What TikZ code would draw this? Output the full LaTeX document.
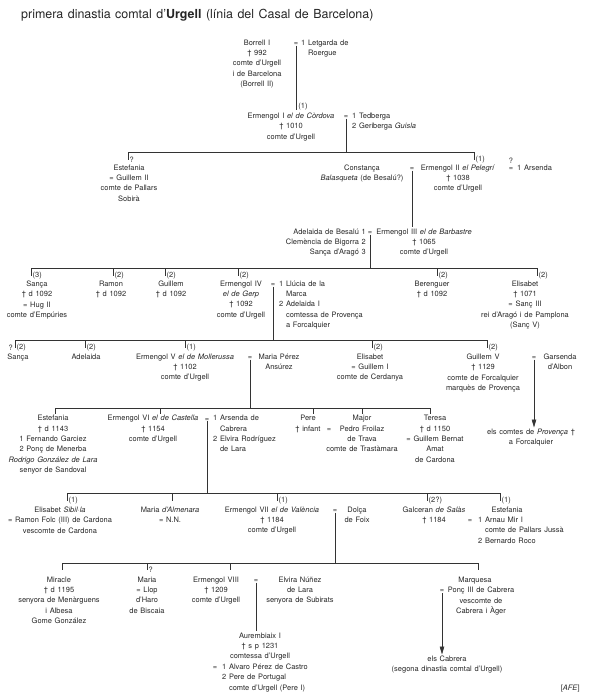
\documentclass[tikz,border=0pt]{standalone}
\usepackage{fontspec}
\setmainfont{TeX Gyre Heros}[WordSpace=1.3]
\usetikzlibrary{arrows.meta,positioning}
\newcommand{\indt}{\hphantom{1\ }}
\newcommand{\txtsize}{\fontsize{7.5}{10.4}\selectfont}

\begin{document}
\begin{tikzpicture}[
    x=1bp,
    y=-1bp,
    txt/.style={align=center, anchor=north, yshift=6bp, inner sep=0pt, text=black!85, font=\txtsize, execute at begin node={\rule{0pt}{6bp}}},
    lst/.style={align=left, anchor=north west, yshift=6bp, inner sep=0pt, text=black!85, font=\txtsize, execute at begin node={\rule{0pt}{6bp}}},
    rlst/.style={align=right, anchor=north east, yshift=6bp, inner sep=0pt, text=black!85, font=\txtsize, execute at begin node={\rule{0pt}{6bp}}},
    eq/.style={anchor=base, inner sep=0pt, text=black!85, font=\txtsize},
    ord/.style={inner sep=0pt, text=black!85, font=\txtsize},
    line/.style={line width=0.55pt, draw=black!80},
    drop/.style={line width=0.55pt, draw=black!80, shorten >=2bp},
    arr/.style={-{Triangle[length=8bp, width=4.5bp]}, line width=0.55pt, draw=black!80, shorten >=1bp}
]
\useasboundingbox (0,0) rectangle (589,700);

\node[anchor=base west, inner sep=0pt, text=black!85, font=\fontsize{12.5}{15}\selectfont] (title) at (21,18.5) {primera dinastia comtal d'\textbf{Urgell} (línia del Casal de Barcelona)};

\node[txt] (borrell) at (257,45.5) {Borrell I\\† 992\\comte d'Urgell\\i de Barcelona\\(Borrell II)};
\node[eq] (m-borrell) at (296,45.5) {=};
\node[lst] (letgarda) at (301,45.5) {1 Letgarda de\\\indt Roergue};
\node[ord] (o-ermI) at (303,107) {(1)};
\node[txt] (ermI) at (291,118.5) {Ermengol I \textit{el de Còrdova}\\† 1010\\comte d'Urgell};
\node[eq] (m-ermI) at (346,118.5) {=};
\node[lst] (tedberga) at (352,118.5) {1 Tedberga\\2 Geriberga \textit{Guisla}};

\coordinate (b2l) at (128,152);
\coordinate (b2r) at (474,152);
\coordinate (t-estefI) at (128,160);
\coordinate (t-ermII) at (474,160);
\node[ord, right=1.5bp of t-estefI] (o-estefI) {?};
\node[ord, right=1.5bp of t-ermII] (o-ermII) {(1)};
\node[txt] (estefI) at (129,170.5) {Estefania\\= Guillem II\\comte de Pallars\\Sobirà};
\node[txt] (constanca) at (362,170.5) {Constança\\\textit{Balasqueta} (de Besalú?)};
\node[eq] (m-ermII) at (412,170.5) {=};
\node[txt] (ermII) at (458,170.5) {Ermengol II \textit{el Pelegrí}\\† 1038\\comte d'Urgell};
\node[eq] (m-arsenda) at (511,170.5) {=};
\node[ord, above=3.5bp of m-arsenda] (q-arsenda) {?};
\node[lst] (arsenda) at (517,170.5) {1 Arsenda};

\node[rlst] (adelaidaB) at (366,234.5) {Adelaida de Besalú 1\\Clemència de Bigorra 2\\Sança d'Aragó 3};
\node[eq] (m-ermIII) at (370,234.5) {=};
\node[txt] (ermIII) at (424,234.5) {Ermengol III \textit{el de Barbastre}\\† 1065\\comte d'Urgell};

\coordinate (b3l) at (31,268);
\coordinate (b3r) at (537,268);
\coordinate (t-sancaI) at (31,276);
\coordinate (t-ramon) at (113,276);
\coordinate (t-guillemI) at (165,276);
\coordinate (t-ermIV) at (238,276);
\coordinate (t-berenguer) at (437,276);
\coordinate (t-elisI) at (537,276);
\node[ord, right=1.5bp of t-sancaI] (o-sancaI) {(3)};
\node[ord, right=1.5bp of t-ramon] (o-ramon) {(2)};
\node[ord, right=1.5bp of t-guillemI] (o-guillemI) {(2)};
\node[ord, right=1.5bp of t-ermIV] (o-ermIV) {(2)};
\node[ord, right=1.5bp of t-berenguer] (o-berenguer) {(2)};
\node[ord, right=1.5bp of t-elisI] (o-elisI) {(2)};
\node[txt] (sancaI) at (37,286.5) {Sança\\† d 1092\\= Hug II\\comte d'Empúries};
\node[txt] (ramon) at (111,286.5) {Ramon\\† d 1092};
\node[txt] (guillemI) at (171,286.5) {Guillem\\† d 1092};
\node[txt] (ermIV) at (241,286.5) {Ermengol IV\\\textit{el de Gerp}\\† 1092\\comte d'Urgell};
\node[eq] (m-ermIV) at (273,286.5) {=};
\node[lst] (llucia) at (279,286.5) {1 Llúcia de la\\\indt Marca\\2 Adelaida I\\\indt comtessa de Provença\\\indt a Forcalquier};
\node[txt] (berenguer) at (432,286.5) {Berenguer\\† d 1092};
\node[txt] (elisI) at (525,286.5) {Elisabet\\† 1071\\= Sanç III\\rei d'Aragó i de Pamplona\\(Sanç V)};

\coordinate (b4l) at (15,340);
\coordinate (b4r) at (487,340);
\coordinate (t-sancaII) at (15,348);
\coordinate (t-adelaida) at (85,348);
\coordinate (t-ermV) at (185,348);
\coordinate (t-elisII) at (372,348);
\coordinate (t-guillemV) at (487,348);
\node[ord, left=2bp of t-sancaII] (q-sancaII) {?};
\node[ord, right=1.5bp of t-sancaII] (o-sancaII) {(2)};
\node[ord, right=1.5bp of t-adelaida] (o-adelaida) {(2)};
\node[ord, right=1.5bp of t-ermV] (o-ermV) {(1)};
\node[ord, right=1.5bp of t-elisII] (o-elisII) {(2)};
\node[ord, right=1.5bp of t-guillemV] (o-guillemV) {(2)};
\node[txt] (sancaII) at (18,359.5) {Sança};
\node[txt] (adelaida) at (86,359.5) {Adelaida};
\node[txt] (ermV) at (185,359.5) {Ermengol V \textit{el de Mollerussa}\\† 1102\\comte d'Urgell};
\node[eq] (m-ermV) at (250,359.5) {=};
\node[txt] (mariaP) at (279,359.5) {Maria Pérez\\Ansúrez};
\node[txt] (elisII) at (370,359.5) {Elisabet\\= Guillem I\\comte de Cerdanya};
\node[txt] (guillemV) at (483,359.5) {Guillem V\\† 1129\\comte de Forcalquier\\marquès de Provença};
\node[eq] (m-guillemV) at (534,359.5) {=};
\node[txt] (garsenda) at (560,359.5) {Garsenda\\d'Albon};
\node[txt] (provenca) at (531,434.5) {els comtes de \textit{Provença} †\\a Forcalquier};

\coordinate (b5l) at (55,408);
\coordinate (b5r) at (430,408);
\coordinate (t-estefII) at (55,414);
\coordinate (t-ermVI) at (160,414);
\coordinate (t-pere) at (313,414);
\coordinate (t-major) at (362,414);
\coordinate (t-teresa) at (430,414);
\node[txt] (estefII) at (53,421) {Estefania\\† d 1143\\1 Fernando Garciez\\2 Ponç de Menerba\\\textit{Rodrigo González de Lara}\\senyor de Sandoval};
\node[txt] (ermVI) at (153,421) {Ermengol VI \textit{el de Castella}\\† 1154\\comte d'Urgell};
\node[eq] (m-ermVI) at (207,421) {=};
\node[lst] (arsendaC) at (213,421) {1 Arsenda de\\\indt Cabrera\\2 Elvira Rodríguez\\\indt de Lara};
\node[txt] (pere) at (308,421) {Pere\\† infant};
\node[eq] (m-major) at (329,431.4) {=};
\node[txt] (major) at (362,421) {Major\\Pedro Froilaz\\de Trava\\comte de Trastàmara};
\node[txt] (teresa) at (435,421) {Teresa\\† d 1150\\= Guillem Bernat\\Amat\\de Cardona};

\coordinate (b6l) at (67,493);
\coordinate (b6r) at (500,493);
\coordinate (t-elisIII) at (67,501);
\coordinate (t-mariaA) at (172,501);
\coordinate (t-ermVII) at (277,501);
\coordinate (t-galceran) at (427,501);
\coordinate (t-estefIII) at (500,501);
\node[ord, right=1.5bp of t-elisIII] (o-elisIII) {(1)};
\node[ord, right=1.5bp of t-ermVII] (o-ermVII) {(1)};
\node[ord, right=1.5bp of t-galceran] (o-galceran) {(2?)};
\node[ord, right=1.5bp of t-estefIII] (o-estefIII) {(1)};
\node[txt] (elisIII) at (60,512.5) {Elisabet \textit{Sibil·la}\\= Ramon Folc (III) de Cardona\\vescomte de Cardona};
\node[txt] (mariaA) at (170,512.5) {Maria \textit{d'Almenara}\\= N.N.};
\node[txt] (ermVII) at (272,512.5) {Ermengol VII \textit{el de València}\\† 1184\\comte d'Urgell};
\node[eq] (m-ermVII) at (335,512.5) {=};
\node[txt] (dolca) at (357,512.5) {Dolça\\de Foix};
\node[txt] (galceran) at (434,512.5) {Galceran \textit{de Salàs}\\† 1184};
\node[txt] (estefIII) at (507,512.5) {Estefania};
\node[eq] (m-estefIII) at (470,522.9) {=};
\node[lst] (arnau) at (478,522.9) {1 Arnau Mir I\\\indt comte de Pallars Jussà\\2 Bernardo Roco};

\coordinate (b7l) at (62,563);
\coordinate (b7r) at (478,563);
\coordinate (t-miracle) at (62,570);
\coordinate (t-mariaL) at (147,570);
\coordinate (t-ermVIII) at (230,570);
\coordinate (t-marquesa) at (478,570);
\node[ord, right=1.5bp of t-mariaL] (o-mariaL) {?};
\node[txt] (miracle) at (59,582.5) {Miracle\\† d 1195\\senyora de Menàrguens\\i Albesa\\Gome González};
\node[txt] (mariaL) at (147,582.5) {Maria\\= Llop\\d'Haro\\de Biscaia};
\node[txt] (ermVIII) at (216,582.5) {Ermengol VIII\\† 1209\\comte d'Urgell};
\node[eq] (m-ermVIII) at (256,582.5) {=};
\node[txt] (elvira) at (300,582.5) {Elvira Núñez\\de Lara\\senyora de Subirats};
\node[txt] (marquesa) at (475,582.5) {Marquesa};
\node[eq] (m-marquesa) at (442,592.9) {=};
\node[txt] (ponc) at (481,592.9) {Ponç III de Cabrera\\vescomte de\\Cabrera i Àger};
\node[txt] (cabrera) at (447,661.5) {els Cabrera\\(segona dinastia comtal d'Urgell)};

\node[txt] (aurembiaix) at (260,638.5) {Aurembiaix I\\† s p 1231\\comtessa d'Urgell};
\node[eq] (m-aurembiaix) at (215,669.7) {=};
\node[lst] (alvaro) at (222,669.7) {1 Alvaro Pérez de Castro\\2 Pere de Portugal\\\indt comte d'Urgell (Pere I)};
\node[anchor=base east, inner sep=0pt, text=black!85, font=\txtsize] (afe) at (580,690.5) {[\textit{AFE}]};

\draw[drop] (m-borrell.south) -- (m-borrell.south |- ermI.north);
\draw[line] (m-ermI.south) -- (m-ermI.south |- b2l);
\draw[line] (b2l) -- (b2r);
\draw[line] (b2l) -- (t-estefI);
\draw[line] (b2r) -- (t-ermII);
\draw[drop] (m-ermII.south) -- (m-ermII.south |- ermIII.north);
\draw[line] (m-ermIII.south) -- (m-ermIII.south |- b3l);
\draw[line] (b3l) -- (b3r);
\draw[line] (b3l) -- (t-sancaI);
\draw[line] (t-ramon |- b3l) -- (t-ramon);
\draw[line] (t-guillemI |- b3l) -- (t-guillemI);
\draw[line] (t-ermIV |- b3l) -- (t-ermIV);
\draw[line] (t-berenguer |- b3l) -- (t-berenguer);
\draw[line] (b3r) -- (t-elisI);
\draw[line] (m-ermIV.south) -- (m-ermIV.south |- b4l);
\draw[line] (b4l) -- (b4r);
\draw[line] (b4l) -- (t-sancaII);
\draw[line] (t-adelaida |- b4l) -- (t-adelaida);
\draw[line] (t-ermV |- b4l) -- (t-ermV);
\draw[line] (t-elisII |- b4l) -- (t-elisII);
\draw[line] (b4r) -- (t-guillemV);
\draw[arr] (m-guillemV.south) -- (m-guillemV.south |- provenca.north);
\draw[line] (m-ermV.south) -- (m-ermV.south |- b5l);
\draw[line] (b5l) -- (b5r);
\draw[line] (b5l) -- (t-estefII);
\draw[line] (t-ermVI |- b5l) -- (t-ermVI);
\draw[line] (t-pere |- b5l) -- (t-pere);
\draw[line] (t-major |- b5l) -- (t-major);
\draw[line] (b5r) -- (t-teresa);
\draw[line] (m-ermVI.south) -- (m-ermVI.south |- b6l);
\draw[line] (b6l) -- (b6r);
\draw[line] (b6l) -- (t-elisIII);
\draw[line] (t-mariaA |- b6l) -- (t-mariaA);
\draw[line] (t-ermVII |- b6l) -- (t-ermVII);
\draw[line] (t-galceran |- b6l) -- (t-galceran);
\draw[line] (b6r) -- (t-estefIII);
\draw[line] (m-ermVII.south) -- (m-ermVII.south |- b7l);
\draw[line] (b7l) -- (b7r);
\draw[line] (b7l) -- (t-miracle);
\draw[line] (t-mariaL |- b7l) -- (t-mariaL);
\draw[line] (t-ermVIII |- b7l) -- (t-ermVIII);
\draw[line] (b7r) -- (t-marquesa);
\draw[drop] (m-ermVIII.south) -- (m-ermVIII.south |- aurembiaix.north);
\draw[arr] (m-marquesa.south) -- (m-marquesa.south |- cabrera.north);
\end{tikzpicture}
\end{document}
